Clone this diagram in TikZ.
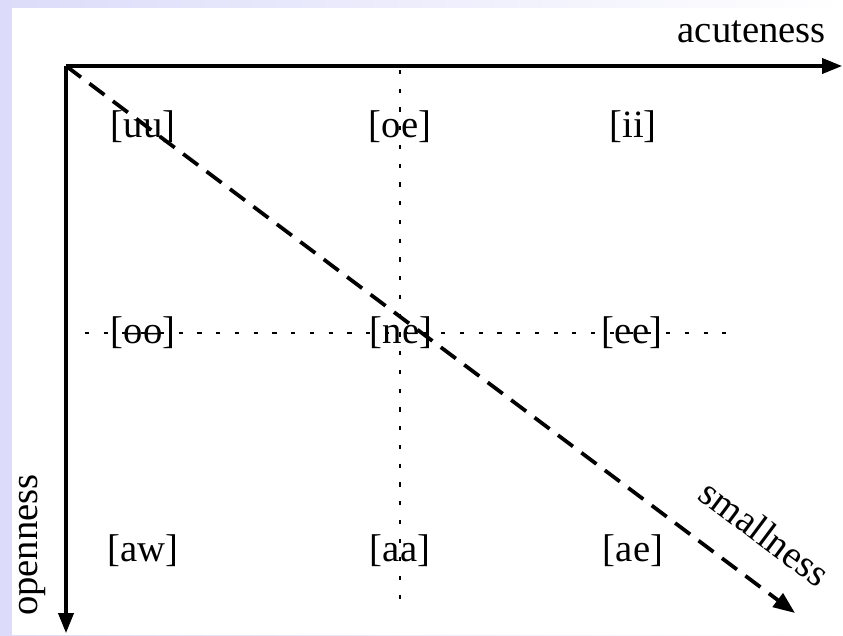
\documentclass[tikz,border=0pt]{standalone}
\usepackage{fontspec}
\setmainfont{Liberation Serif}
\usetikzlibrary{arrows.meta,positioning}
\definecolor{Lavender}{HTML}{DCDCFA}

\begin{document}
\begin{tikzpicture}[
  x=0.03cm,y=-0.03cm,
  font=\fontsize{33}{40}\selectfont,
  vowel/.style={inner sep=0pt},
  axis/.style={-{Triangle[length=6mm,width=4.6mm]},line width=2.6pt},
  diag/.style={-{Triangle[length=6.5mm,width=5mm]},line width=3.2pt,
    dash pattern=on 16pt off 9pt},
  guide/.style={line width=1.2pt,dash pattern=on 3.5pt off 12.5pt}
]
% Slide background.
\useasboundingbox (0,0) rectangle (843,635);
\shade[left color=Lavender,right color=white] (0,0) rectangle (843,635);
\fill[white] (12,8) rectangle (843,635);

% Guide lines through the middle row and column.
\coordinate (hL) at (85,333);
\coordinate (hR) at (740,333);
\coordinate (vT) at (400,70);
\coordinate (vB) at (400,600);
\draw[guide] (hL)--(hR);
\draw[guide] (vT)--(vB);

% Vowel grid.
\foreach \n/\t/\x/\y in {uu/{[uu]}/143/127,oe/{[oe]}/400/127,ii/{[ii]}/633/127,
    oo/{[ɵɵ]}/143/333,ne/{[ne]}/401/333,ee/{[ee]}/632/333,
    aw/{[aw]}/143/551,aa/{[aa]}/400/551,ae/{[ae]}/633/551} {
  \node[vowel] (v\n) at (\x,\y) {\t};
}

% Axes.
\coordinate (origin) at (66,66);
\coordinate (xend) at (842,66);
\coordinate (yend) at (66,633);
\coordinate (send) at (795,613);
\draw[axis] (origin)--(xend);
\draw[axis] (origin)--(yend);
\draw[diag] (origin)--(send);

\node[anchor=base east] (acute) at (830,42) {acuteness};
\node[rotate=90,anchor=base] (open) at (37,545) {openness};
\node[rotate=-36.87] (small) at (765,533) {smallness};
\end{tikzpicture}
\end{document}
